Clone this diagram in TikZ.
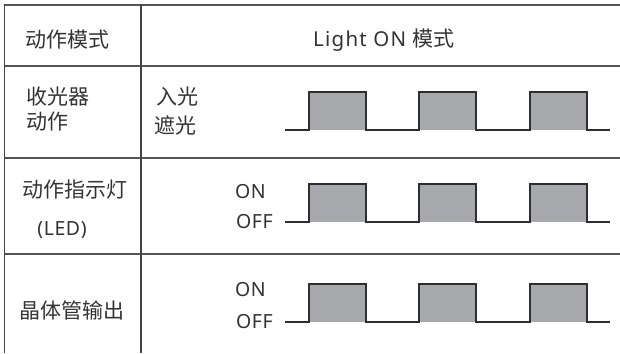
\documentclass[tikz,border=0pt]{standalone}
\usepackage{fontspec}
\setmainfont{Noto Sans}
\newfontfamily\cjk{Noto Sans CJK SC}
\definecolor{txt}{HTML}{333333}
\definecolor{rule}{HTML}{555555}
\definecolor{wave}{HTML}{2E2E2E}
\definecolor{pulsefill}{HTML}{A7A8AB}
\begin{document}
\begin{tikzpicture}[x=1pt,y=-1pt,
  cn/.style={text=txt,inner sep=0pt,font=\cjk\fontsize{21}{24}\selectfont},
  lt/.style={text=txt,inner sep=0pt,font=\fontsize{19.5}{22}\selectfont\addfontfeature{LetterSpace=3}},
  hrule/.style={draw=rule,line width=2pt},
  vrule/.style={draw=rule!80!black,line width=1.5pt},
  wavel/.style={draw=wave,line width=1.4pt,line join=miter},
  pulse/.style={fill=pulsefill}]
\useasboundingbox (0,0) rectangle (620,353);
% table rules
\draw[hrule] (3.5,5) -- (620,5);
\draw[hrule] (3.5,66) -- (620,66);
\draw[hrule] (3.5,158) -- (620,158);
\draw[hrule] (3.5,254) -- (620,254);
\draw[vrule] (4.5,4) -- (4.5,353);
\draw[vrule] (141,4) -- (141,353);
% header
\node[cn] (h1) at (67,40) {动作模式};
\node[text=txt,inner sep=0pt] (h2) at (384,40) {\fontsize{20.5}{24}\selectfont\addfontfeature{LetterSpace=6}Light ON {\cjk\fontsize{21}{24}\selectfont 模式}};
% row labels
\node[cn,anchor=west] (r1a) at (26,97) {收光器};
\node[cn,anchor=west] (r1b) at (26,122) {动作};
\node[cn] (r2a) at (75,190) {动作指示灯};
\node[lt] (r2b) at (62,230) {(LED)};
\node[cn] (r3a) at (72,310) {晶体管输出};
% level labels
\node[cn,anchor=west] (l1a) at (156,97) {入光};
\node[cn,anchor=west] (l1b) at (154,125) {遮光};
\node[lt,anchor=east] (l2a) at (266,192) {ON};
\node[lt,anchor=east] (l2b) at (273,222) {OFF};
\node[lt,anchor=east] (l3a) at (266,290) {ON};
\node[lt,anchor=east] (l3b) at (273,322) {OFF};
% waveforms
\foreach \hi/\lo in {92/130,184/222,284/322}{
  \foreach \a/\b in {309/366,419/476,530/587}{
    \fill[pulse] (\a,\hi) rectangle (\b,\lo);
  }
  \draw[wavel] (285,\lo) -- (309,\lo) -- (309,\hi) -- (366,\hi) -- (366,\lo)
    -- (419,\lo) -- (419,\hi) -- (476,\hi) -- (476,\lo)
    -- (530,\lo) -- (530,\hi) -- (587,\hi) -- (587,\lo) -- (610,\lo);
}
\end{tikzpicture}
\end{document}
